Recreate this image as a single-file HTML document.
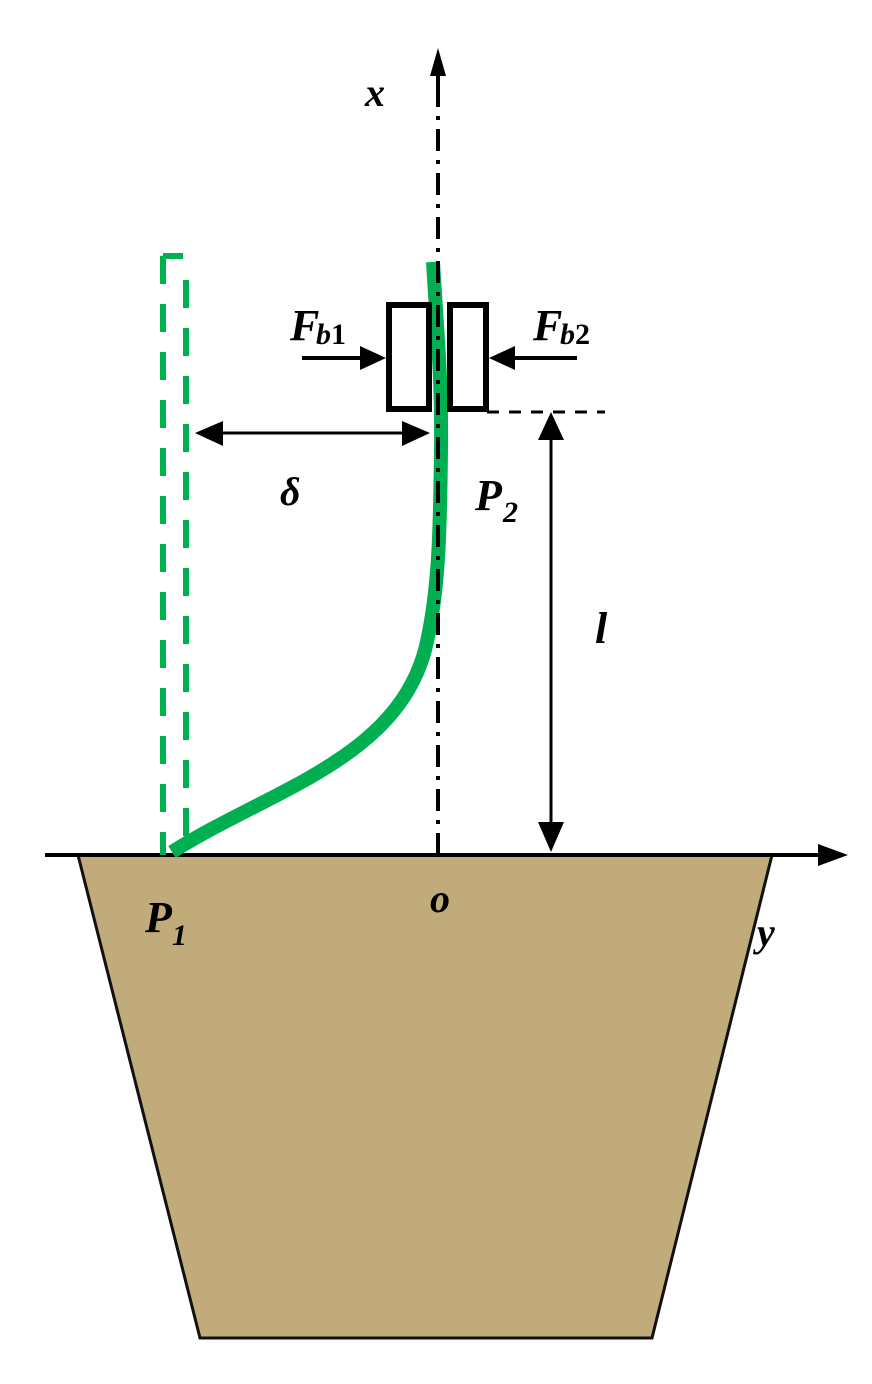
<!DOCTYPE html>
<html><head><meta charset="utf-8"><style>
html,body{margin:0;padding:0;background:#fff;}
svg{display:block;}
text{font-family:"Liberation Serif",serif;font-style:italic;font-weight:bold;fill:#000;}
</style></head><body>
<svg width="872" height="1384" viewBox="0 0 872 1384" xmlns="http://www.w3.org/2000/svg">
<!-- soil -->
<polygon points="78,855 772,855 652,1338 200,1338" fill="#c2ab7b" stroke="#111" stroke-width="3"/>
<!-- y axis -->
<line x1="45" y1="855" x2="825" y2="855" stroke="#000" stroke-width="4"/>
<polygon points="848,855 818,844 818,866" fill="#000"/>
<!-- green dashed original -->
<line x1="163" y1="256" x2="183" y2="256" stroke="#00b050" stroke-width="6"/>
<line x1="163" y1="256" x2="163" y2="855" stroke="#00b050" stroke-width="6" stroke-dasharray="28,20"/>
<line x1="186" y1="280" x2="186" y2="855" stroke="#00b050" stroke-width="6" stroke-dasharray="28,20"/>
<!-- green curve -->
<path d="M433,262 C437,330 442,380 441,450 C440,520 440,590 425,650 C395,760 270,790 172,852" fill="none" stroke="#00b050" stroke-width="14"/>
<!-- boxes -->
<rect x="389" y="305" width="40" height="104" fill="#fff" stroke="#000" stroke-width="6"/>
<rect x="450" y="305" width="36" height="104" fill="#fff" stroke="#000" stroke-width="6"/>
<!-- x axis (on top) -->
<line x1="438" y1="855" x2="438" y2="90" stroke="#000" stroke-width="4" stroke-dasharray="22,9,4,9"/>
<line x1="438" y1="92" x2="438" y2="70" stroke="#000" stroke-width="4"/>
<polygon points="438,48 430,76 446,76" fill="#000"/>
<!-- force arrows -->
<line x1="302" y1="358" x2="365" y2="358" stroke="#000" stroke-width="4"/>
<polygon points="386,358 360,346 360,370" fill="#000"/>
<line x1="577" y1="358" x2="510" y2="358" stroke="#000" stroke-width="4"/>
<polygon points="489,358 515,346 515,370" fill="#000"/>
<!-- dashed ref -->
<line x1="487" y1="412" x2="605" y2="412" stroke="#000" stroke-width="3" stroke-dasharray="12,10"/>
<!-- delta arrow -->
<line x1="210" y1="433" x2="415" y2="433" stroke="#000" stroke-width="3"/>
<polygon points="195,433 223,421 223,446" fill="#000"/>
<polygon points="430,433 402,421 402,446" fill="#000"/>
<!-- l arrow -->
<line x1="551" y1="430" x2="551" y2="830" stroke="#000" stroke-width="3"/>
<polygon points="551,412 538,440 564,440" fill="#000"/>
<polygon points="551,852 538,822 564,822" fill="#000"/>
<!-- labels -->
<text x="365" y="106" font-size="40">x</text>
<text x="290" y="340" font-size="44">F</text><text x="316" y="344" font-size="30">b<tspan font-style="normal">1</tspan></text>
<text x="533" y="340" font-size="44">F</text><text x="560" y="344" font-size="30">b<tspan font-style="normal">2</tspan></text>
<text x="280" y="505" font-size="40">δ</text>
<text x="475" y="510" font-size="44">P</text><text x="503" y="522" font-size="30" font-style="normal">2</text>
<text x="595" y="643" font-size="44">l</text>
<text x="145" y="932" font-size="44">P</text><text x="172" y="945" font-size="30" font-style="normal">1</text>
<text x="430" y="912" font-size="40">o</text>
<text x="757" y="946" font-size="40">y</text>
</svg>
</body></html>
